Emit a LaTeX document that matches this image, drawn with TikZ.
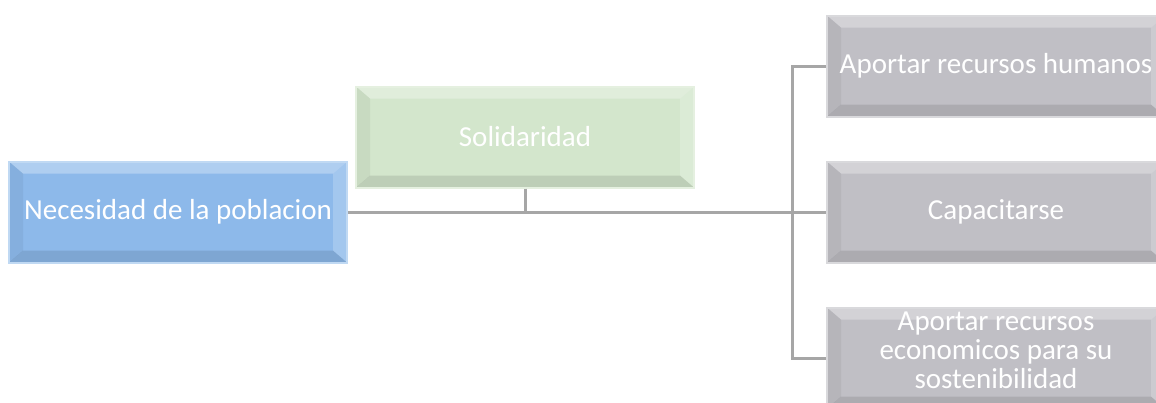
\documentclass[tikz,border=0pt]{standalone}
\usepackage{fontspec}
\setmainfont{Carlito}
\usetikzlibrary{positioning}

\definecolor{pobblue}{HTML}{8DB9EA}
\definecolor{solgreen}{HTML}{D3E6CC}
\definecolor{taskgray}{HTML}{C0BFC5}
\definecolor{linegray}{HTML}{A6A6A6}

\begin{document}
\begin{tikzpicture}[x=1pt,y=-1pt]
       \useasboundingbox (0,0) rectangle (1156,402);

       \tikzset{bevel/.style={path picture={
         \coordinate (nw) at (path picture bounding box.north west);
         \coordinate (ne) at (path picture bounding box.north east);
         \coordinate (sw) at (path picture bounding box.south west);
         \coordinate (se) at (path picture bounding box.south east);
         \fill[white,opacity=.30] (nw) -- (ne) -- ([shift={(-14pt,-12pt)}]ne) -- ([shift={(14pt,-12pt)}]nw) -- cycle;
         \fill[black,opacity=.05] (nw) -- (sw) -- ([shift={(14pt,12pt)}]sw) -- ([shift={(14pt,-12pt)}]nw) -- cycle;
         \fill[black,opacity=.10] (sw) -- (se) -- ([shift={(-14pt,12pt)}]se) -- ([shift={(14pt,12pt)}]sw) -- cycle;
         \fill[white,opacity=.20] (ne) -- (se) -- ([shift={(-14pt,12pt)}]se) -- ([shift={(-14pt,-12pt)}]ne) -- cycle;
       }}}
       \tikzset{box/.style={rectangle, draw, line width=2pt, text=white, align=center,
         font=\fontsize{29}{29}\selectfont, minimum width=338pt, minimum height=101pt,
         inner sep=0pt, bevel}}
       \tikzset{need/.style={box, fill=pobblue, draw=pobblue!55!white}}
       \tikzset{value/.style={box, fill=solgreen, draw=solgreen!60!white}}
       \tikzset{task/.style={box, fill=taskgray, draw=taskgray!60!white, node distance=146pt}}
       \tikzset{conn/.style={draw=linegray, line width=3pt}}

       \node[need] (pob) at (178,212) {Necesidad de la poblacion};
       \node[value] (sol) at (525,137) {Solidaridad};
       \node[task] (cap) at (996,212) {Capacitarse};
       \node[task, above of=cap] (hum) {Aportar recursos humanos};
       \node[task, below of=cap, text depth=16pt] (eco) {Aportar recursos\\economicos para su\\sostenibilidad};

       \coordinate (bus) at ([xshift=-34pt]cap.west);

       \path[conn]
       (pob) -- (cap)
       (sol) -- (sol |- pob)
       (hum) -| (bus) |- (eco);

\end{tikzpicture}
\end{document}
